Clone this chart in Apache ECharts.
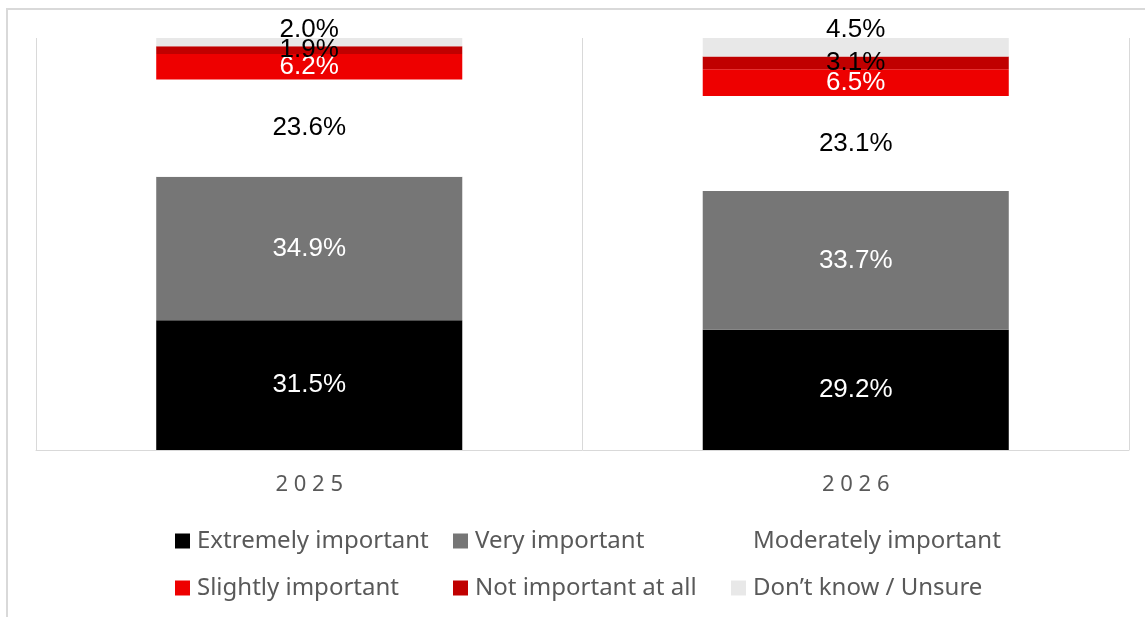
<!DOCTYPE html>
<html>
<head>
<meta charset="utf-8">
<script src="https://cdn.jsdelivr.net/npm/echarts@6/dist/echarts.min.js"></script>
<style>
  html, body { margin: 0; padding: 0; background: #ffffff; }
  #chart { width: 1145px; height: 617px; }
</style>
</head>
<body>
<div id="chart"></div>
<script>
// Survey responses by year, shares in percent
const categories = ['2025', '2026'];
const seriesNames = [
  'Extremely important',
  'Very important',
  'Moderately important',
  'Slightly important',
  'Not important at all',
  'Don\u2019t know / Unsure'
];
const extremelyImportant = [31.5, 29.2];
const veryImportant = [34.9, 33.7];
const moderatelyImportant = [23.6, 23.1];
const slightlyImportant = [6.2, 6.5];
const notImportantAtAll = [1.9, 3.1];
const dontKnowUnsure = [2.0, 4.5];

const values = [
  extremelyImportant,
  veryImportant,
  moderatelyImportant,
  slightlyImportant,
  notImportantAtAll,
  dontKnowUnsure
];
const fills = ['#000000', '#767676', '#ffffff', '#ee0000', '#c00000', '#e8e8e8'];
const labelColors = ['#ffffff', '#ffffff', '#000000', '#ffffff', '#000000', '#000000'];

const series = seriesNames.map((name, i) => {
  const isTop = i === seriesNames.length - 1;
  return {
    name: name,
    type: 'bar',
    stack: 'total',
    barWidth: '56%',
    data: values[i],
    itemStyle: { color: fills[i] },
    label: {
      show: true,
      position: isTop ? 'top' : 'inside',
      distance: isTop ? -5 : 5,
      color: labelColors[i],
      fontFamily: 'Liberation Sans, Arial, sans-serif',
      fontSize: 26,
      formatter: p => p.value.toFixed(1) + '%'
    },
    emphasis: { disabled: true }
  };
});

const legendText = {
  fontFamily: 'Noto Sans, sans-serif',
  fontSize: 24,
  color: '#595959',
  lineHeight: 26,
  padding: [0, 0, 0, 2]
};
function legendColumn(left, names) {
  return {
    orient: 'vertical',
    left: left,
    top: 523,
    itemGap: 21,
    itemWidth: 15,
    itemHeight: 15,
    icon: 'rect',
    selectedMode: false,
    textStyle: legendText,
    data: names
  };
}

const chart = echarts.init(document.getElementById('chart'), null, { renderer: 'canvas' });
chart.setOption({
  animation: false,
  backgroundColor: '#ffffff',
  graphic: [{
    type: 'rect',
    shape: { x: 7, y: 9, width: 1160, height: 640 },
    style: { fill: 'none', stroke: '#d9d9d9', lineWidth: 2 },
    silent: true
  }],
  grid: { left: 36, right: 16, top: 38, bottom: 167, containLabel: false },
  legend: [
    legendColumn(170, [seriesNames[0], seriesNames[3]]),
    legendColumn(448, [seriesNames[1], seriesNames[4]]),
    legendColumn(726, [seriesNames[2], seriesNames[5]])
  ],
  xAxis: {
    type: 'category',
    data: categories,
    boundaryGap: true,
    axisLine: { show: true, lineStyle: { color: '#d9d9d9', width: 1 } },
    axisTick: { show: false },
    splitLine: { show: true, lineStyle: { color: '#d9d9d9', width: 1 } },
    axisLabel: {
      color: '#595959',
      fontFamily: 'Noto Sans, sans-serif',
      fontSize: 22,
      margin: 24,
      formatter: v => v.split('').join(' ')
    }
  },
  yAxis: {
    type: 'value',
    min: 0,
    max: v => v.max,
    show: false,
    splitLine: { show: false }
  },
  series: series
});
</script>
</body>
</html>
